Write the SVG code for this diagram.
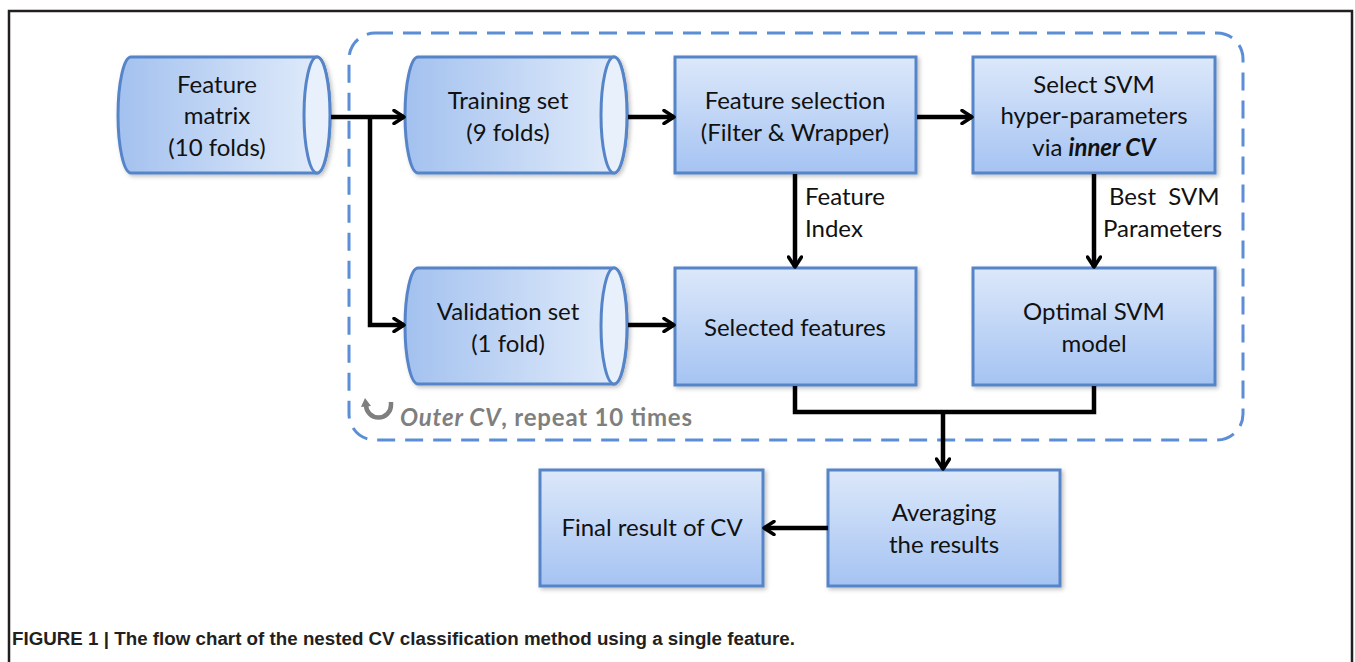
<svg xmlns="http://www.w3.org/2000/svg" width="1355" height="662" viewBox="0 0 1355 662">
<defs>
<linearGradient id="boxg" x1="0" y1="0" x2="0" y2="1">
<stop offset="0" stop-color="#dce8fa"/>
<stop offset="1" stop-color="#a5c3f2"/>
</linearGradient>
<linearGradient id="cylg" x1="0" y1="0" x2="1" y2="0">
<stop offset="0" stop-color="#a3c1ef"/>
<stop offset="1" stop-color="#e3edfb"/>
</linearGradient>
<filter id="sh" x="-5%" y="-5%" width="112%" height="115%">
<feDropShadow dx="2" dy="2" stdDeviation="2" flood-color="#000" flood-opacity="0.25"/>
</filter>
<marker id="arr" viewBox="0 0 16 16" refX="13" refY="8" markerWidth="16" markerHeight="16" markerUnits="userSpaceOnUse" orient="auto">
<path d="M3,1.5 L13,8 L3,14.5" fill="none" stroke="#000" stroke-width="3.5" stroke-linecap="round" stroke-linejoin="round"/>
</marker>
<style>
.box{fill:url(#boxg);stroke:#5585c8;stroke-width:3;filter:url(#sh)}
.cyl{fill:url(#cylg);stroke:#5585c8;stroke-width:3;filter:url(#sh)}
.end{fill:#e8f0fc;stroke:#5585c8;stroke-width:3}
.t{font-family:Lato,"Liberation Sans",sans-serif;font-size:24px;fill:#111;text-anchor:middle}
.lbl{font-family:Lato,"Liberation Sans",sans-serif;font-size:24px;fill:#111}
.c{fill:none;stroke:#000;stroke-width:4.5}
.ca{fill:none;stroke:#000;stroke-width:4.5;marker-end:url(#arr)}
</style>
</defs>
<rect width="1355" height="662" fill="#fff"/>
<path d="M9,662 V11 H1352 V662" fill="none" stroke="#231f20" stroke-width="2.5"/>
<rect id="outer" x="349" y="33" width="894" height="407" rx="26" fill="none" stroke="#5b8ed6" stroke-width="3" stroke-dasharray="18,10"/>
<g id="outer-label">
<path d="M366,405 A12.5,12.5 0 0 0 391,405 V402" fill="none" stroke="#7f7f7f" stroke-width="4.5"/>
<path d="M361,407 L365,398 L371,406 Z" fill="#7f7f7f"/>
<text x="400" y="426" font-family="Lato,'Liberation Sans',sans-serif" font-size="24" font-weight="bold" fill="#7f7f7f" textLength="292"><tspan font-style="italic">Outer CV</tspan>, repeat 10 times</text>
</g>
<g id="feature-matrix">
<path class="cyl" d="M131,57 H317 A13,58 0 0 1 317,173 H131 A13,58 0 0 1 131,57 Z"/>
<ellipse class="end" cx="317" cy="115" rx="13" ry="58"/>
<text class="t" x="217" y="93">Feature</text>
<text class="t" x="217" y="124">matrix</text>
<text class="t" x="217" y="156">(10 folds)</text>
</g>
<g id="training-set">
<path class="cyl" d="M418,57 H614 A13,58 0 0 1 614,173 H418 A13,58 0 0 1 418,57 Z"/>
<ellipse class="end" cx="614" cy="115" rx="13" ry="58"/>
<text class="t" x="508" y="109">Training set</text>
<text class="t" x="508" y="141">(9 folds)</text>
</g>
<g id="validation-set">
<path class="cyl" d="M418,268 H614 A13,58 0 0 1 614,384 H418 A13,58 0 0 1 418,268 Z"/>
<ellipse class="end" cx="614" cy="326" rx="13" ry="58"/>
<text class="t" x="508" y="320">Validation set</text>
<text class="t" x="508" y="352">(1 fold)</text>
</g>
<g id="feature-selection">
<rect class="box" x="675" y="57" width="241" height="116"/>
<text class="t" x="795" y="109">Feature selection</text>
<text class="t" x="795" y="141">(Filter &amp; Wrapper)</text>
</g>
<g id="select-svm">
<rect class="box" x="973" y="57" width="242" height="116"/>
<text class="t" x="1094" y="93">Select SVM</text>
<text class="t" x="1094" y="124">hyper-parameters</text>
<text class="t" x="1094" y="156">via <tspan font-weight="bold" font-style="italic">inner CV</tspan></text>
</g>
<g id="selected-features">
<rect class="box" x="675" y="268" width="241" height="117"/>
<text class="t" x="795" y="336">Selected features</text>
</g>
<g id="optimal-svm">
<rect class="box" x="973" y="268" width="242" height="117"/>
<text class="t" x="1094" y="320">Optimal SVM</text>
<text class="t" x="1094" y="352">model</text>
</g>
<g id="averaging">
<rect class="box" x="828" y="470" width="232" height="116"/>
<text class="t" x="944" y="521">Averaging</text>
<text class="t" x="944" y="553">the results</text>
</g>
<g id="final-result">
<rect class="box" x="540" y="470" width="223" height="116"/>
<text class="t" x="652" y="536">Final result of CV</text>
</g>
<g id="connectors">
<path class="ca" d="M331,117 H404"/>
<path class="ca" d="M370,117 V325 H404"/>
<path class="ca" d="M628,117 H674"/>
<path class="ca" d="M917,117 H972"/>
<path class="ca" d="M628,325 H674"/>
<path class="ca" d="M795,174 V267"/>
<path class="ca" d="M1094,174 V267"/>
<path class="c" d="M795,386 V412 H1094 V386"/>
<path class="ca" d="M943,412 V469"/>
<path class="ca" d="M828,528 H764"/>
<text class="lbl" x="805" y="205">Feature</text>
<text class="lbl" x="805" y="237">Index</text>
<text class="lbl" x="1109" y="205" xml:space="preserve">Best  SVM</text>
<text class="lbl" x="1103" y="237">Parameters</text>
</g>
<text x="12" y="645" font-family="'Liberation Sans',Arial,sans-serif" font-size="18" font-weight="bold" fill="#231f20" textLength="783" lengthAdjust="spacingAndGlyphs">FIGURE 1 | The flow chart of the nested CV classification method using a single feature.</text>
</svg>
